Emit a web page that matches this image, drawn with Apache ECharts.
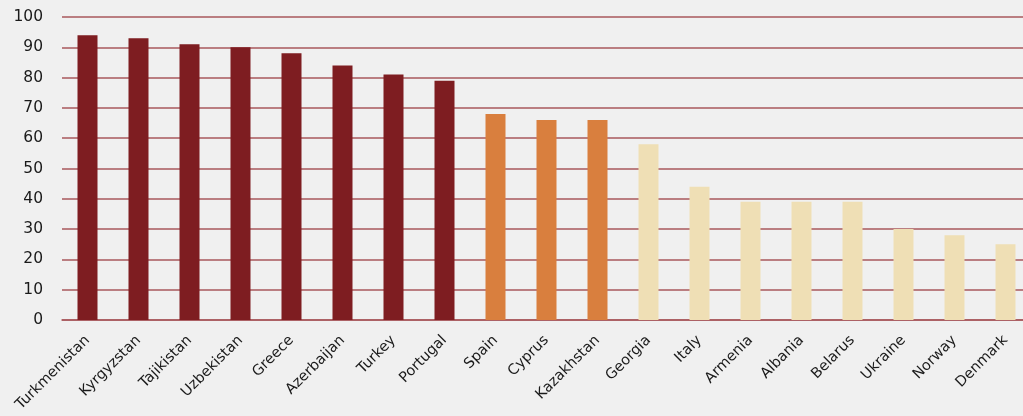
<!DOCTYPE html>
<html>
<head>
<meta charset="utf-8">
<script src="https://cdn.jsdelivr.net/npm/echarts@6/dist/echarts.min.js"></script>
<style>
html,body{margin:0;padding:0;background:#f0f0f0;}
#c{width:1023px;height:416px;}
</style>
</head>
<body>
<div id="c"></div>
<script>
const categories = ["Turkmenistan","Kyrgyzstan","Tajikistan","Uzbekistan","Greece","Azerbaijan","Turkey","Portugal","Spain","Cyprus","Kazakhstan","Georgia","Italy","Armenia","Albania","Belarus","Ukraine","Norway","Denmark"];
const values = [94, 93, 91, 90, 88, 84, 81, 79, 68, 66, 66, 58, 44, 39, 39, 39, 30, 28, 25];
const groups = [0,0,0,0,0,0,0,0,1,1,1,2,2,2,2,2,2,2,2];
const groupColors = ["#7e1d21", "#d97f3e", "#efdfb5"];
const yTicks = [0, 100, 10];

const chart = echarts.init(document.getElementById('c'), null, {renderer:'canvas'});
chart.setOption({
  backgroundColor: '#f0f0f0',
  animation: false,
  grid: {left: 62, width: 969, top: 17, bottom: 96, containLabel: false, outerBoundsMode: 'none'},
  xAxis: {
    type: 'category',
    data: categories,
    axisLine: {show: true, lineStyle: {color: '#a8585c', width: 1.5}},
    axisTick: {show: false},
    axisLabel: {
      rotate: 45, interval: 0, margin: 18,
      color: '#1a1a1a', fontSize: 14.5, fontFamily: '"DejaVu Sans", sans-serif'
    }
  },
  yAxis: {
    type: 'value',
    min: yTicks[0], max: yTicks[1], interval: yTicks[2],
    axisLine: {show: false},
    axisTick: {show: false},
    axisLabel: {color: '#1a1a1a', fontSize: 15.5, margin: 19, fontFamily: '"DejaVu Sans", sans-serif'},
    splitLine: {lineStyle: {color: '#a8585c', width: 1.5}}
  },
  series: [{
    type: 'bar',
    barWidth: 20,
    data: values.map((v, i) => ({value: v, itemStyle: {color: groupColors[groups[i]]}}))
  }]
});
</script>
</body>
</html>
